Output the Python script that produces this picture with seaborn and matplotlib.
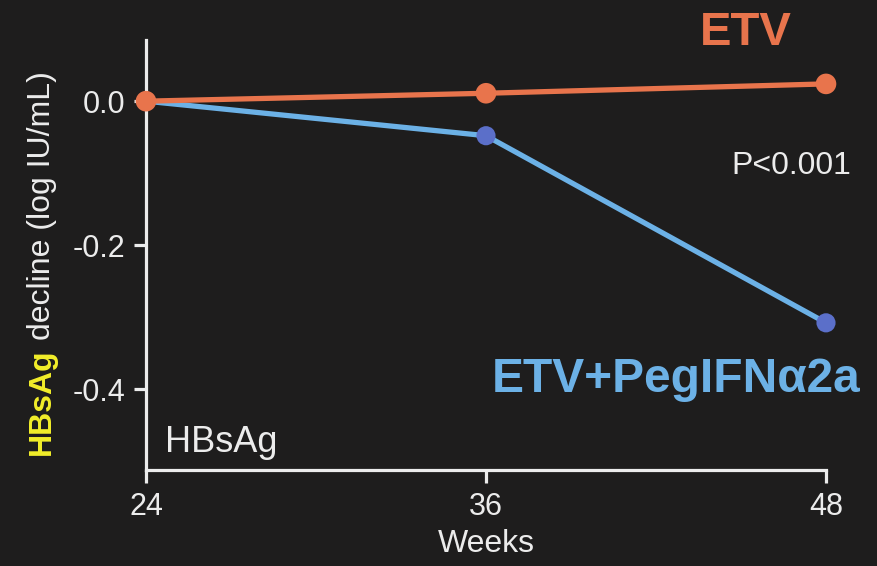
import matplotlib
matplotlib.use("Agg")
import matplotlib.pyplot as plt
import seaborn as sns
import pandas as pd

weeks = [24, 36, 48]
etv = [0.0, 0.011, 0.024]
etv_peg = [0.0, -0.048, -0.308]
y_ticks = [0.0, -0.2, -0.4]
y_tick_labels = ["0.0", "-0.2", "-0.4"]

BG = "#1e1d1d"
FG = "#ececec"
ORANGE = "#e8744c"
BLUE_LINE = "#6cb1e6"
BLUE_DOT = "#5b6fc9"
YELLOW = "#f2ee2a"

sns.set_theme(style="dark")
plt.rcParams["font.family"] = ["Liberation Sans", "DejaVu Sans"]

df = pd.DataFrame({
    "week": weeks * 2,
    "value": etv + etv_peg,
    "arm": ["ETV"] * 3 + ["ETV+PegIFNα2a"] * 3,
})

fig = plt.figure(figsize=(8.77, 5.66), dpi=100, facecolor=BG)
ax = fig.add_axes([146 / 877, 1 - 470 / 566, (826 - 146) / 877, 430 / 566])
ax.set_facecolor(BG)

combo = df[df.arm == "ETV+PegIFNα2a"]
mono = df[df.arm == "ETV"]
sns.lineplot(data=combo, x="week", y="value", color=BLUE_LINE, lw=3.8, ax=ax,
             legend=False, zorder=3)
sns.scatterplot(data=combo, x="week", y="value", color=BLUE_DOT, s=190,
                edgecolor="none", ax=ax, legend=False, zorder=4)
sns.lineplot(data=mono, x="week", y="value", color=ORANGE, lw=3.8, ax=ax,
             legend=False, zorder=5)
sns.scatterplot(data=mono, x="week", y="value", color=ORANGE, s=220,
                edgecolor="none", ax=ax, legend=False, zorder=6)
for c in ax.collections + ax.lines:
    c.set_clip_on(False)

ax.set_xlim(24, 48)
ax.set_ylim(-0.5125, 0.085)
ax.set_xticks(weeks)
ax.set_xticklabels([str(w) for w in weeks])
ax.set_yticks(y_ticks)
ax.set_yticklabels(y_tick_labels)
ax.grid(False)

for side in ("top", "right"):
    ax.spines[side].set_visible(False)
for side in ("left", "bottom"):
    ax.spines[side].set_visible(True)
    ax.spines[side].set_color(FG)
    ax.spines[side].set_linewidth(2.3)

ax.tick_params(axis="both", colors=FG, labelcolor=FG, length=9, width=2.3,
               direction="out", labelsize=22, bottom=True, left=True)
ax.tick_params(axis="x", pad=7)
ax.tick_params(axis="y", pad=6)
ax.set_xlabel("Weeks", color=FG, fontsize=23, labelpad=5)
ax.set_ylabel("")

ax.text(19 / 680, 18 / 430, "HBsAg", transform=ax.transAxes, color=FG,
        fontsize=26, ha="left", va="baseline")
fig.text(746 / 877, 1 - 33 / 566, "ETV", color=ORANGE, fontsize=34,
         fontweight="bold", ha="center", va="center")
fig.text(791 / 877, 1 - 166 / 566, "P<0.001", color=FG, fontsize=23,
         ha="center", va="center")
fig.text(676 / 877, 1 - 380 / 566, "ETV+PegIFNα2a", color=BLUE_LINE,
         fontsize=34.5, fontweight="bold", ha="center", va="center")

# two-colour rotated y label
fig.canvas.draw()
r = fig.canvas.get_renderer()
t1 = fig.text(42 / 877, 1 - 455 / 566, "HBsAg", color=YELLOW, fontsize=23,
              fontweight="bold", rotation=90, ha="center", va="bottom")
bb = t1.get_window_extent(renderer=r)
fig.text(42 / 877, (bb.y1 + 8) / fig.bbox.height, "decline (log IU/mL)",
         color=FG, fontsize=23, rotation=90, ha="center", va="bottom")

fig.savefig("out.png", dpi=100, facecolor=BG)
